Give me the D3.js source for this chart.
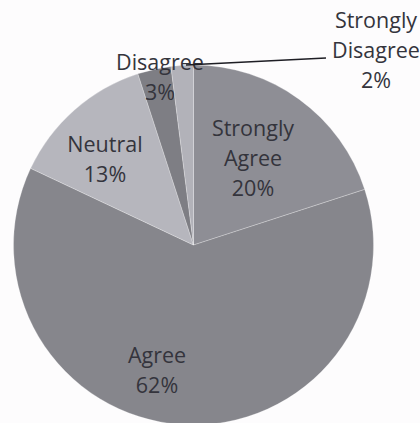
<!DOCTYPE html>
<html><head><meta charset="utf-8">
<script src="https://cdn.jsdelivr.net/npm/d3@7"></script>
<style>html,body{margin:0;padding:0;background:#fdfcfd;overflow:hidden}</style>
</head><body>
<svg id="chart" width="420" height="423"></svg>
<script>
const categories = ["Strongly Agree", "Agree", "Neutral", "Disagree", "Strongly Disagree"];
const values = [20, 62, 13, 3, 2];
const labelLines = [["Strongly", "Agree", "20%"], ["Agree", "62%"], ["Neutral", "13%"], ["Disagree", "3%"], ["Strongly", "Disagree", "2%"]];
const colors = ["#8e8e95", "#86868c", "#b6b6bd", "#7e7e84", "#b2b2b9"];

const svg = d3.select("#chart");
const cx = 193.5, cy = 245, r = 180;
const g = svg.append("g").attr("transform", `translate(${cx},${cy})`);
const pie = d3.pie().sort(null).value(d => d)(values);
const arc = d3.arc().innerRadius(0).outerRadius(r);
g.selectAll("path").data(pie).join("path")
  .attr("d", arc)
  .attr("fill", (d, i) => colors[i])
  .attr("stroke", "rgba(255,255,255,0.25)")
  .attr("stroke-width", 1);

// label positions (absolute, first baseline)
const labelPos = [[253, 136], [157, 363], [105, 152], [160, 70], [376, 28]];
const lineStep = 30;
labelLines.forEach((lines, i) => {
  const t = svg.append("text")
    .attr("text-anchor", "middle")
    .attr("font-family", "'Open Sans', sans-serif")
    .attr("font-size", 21.5)
    .attr("fill", "#34343c");
  lines.forEach((s, j) => {
    t.append("tspan").attr("x", labelPos[i][0]).attr("y", labelPos[i][1] + j * lineStep).text(s);
  });
});
// leader line for Strongly Disagree
svg.append("path")
  .attr("d", "M186,65 L326,58")
  .attr("stroke", "#1e1e24").attr("stroke-width", 1.6).attr("fill", "none");
</script>
</body></html>
